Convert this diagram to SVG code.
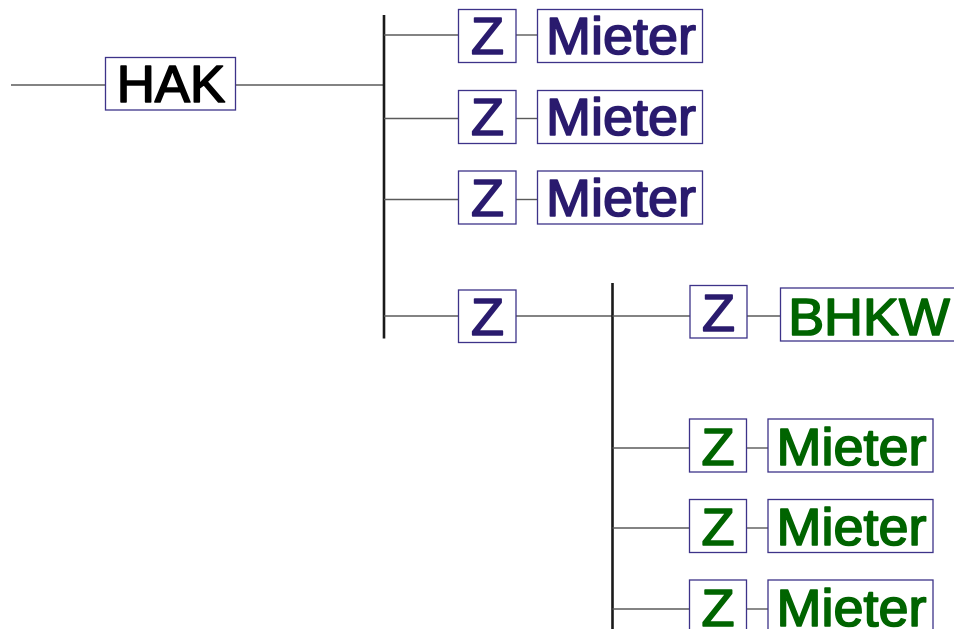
<svg xmlns="http://www.w3.org/2000/svg" width="954" height="629" viewBox="0 0 954 629">
<style>
.box{fill:#fff;stroke:#3d3389;stroke-width:1.3}
.ln{stroke:#5a5a5a;stroke-width:1.4;fill:none}
.bus{stroke:#1a1a1a;stroke-width:2.6;fill:none}
text{font-family:"Liberation Sans",Arial,sans-serif;font-size:51px;text-anchor:middle;stroke-width:1.6;stroke-linejoin:round}
.b{fill:#2a1b6e;stroke:#2a1b6e}
.g{fill:#006400;stroke:#006400}
.k{fill:#000;stroke:#000}
</style>
<rect width="954" height="629" fill="#fff"/>
<g id="connectors">
<line class="ln" x1="11" y1="85" x2="106" y2="85"/>
<line class="ln" x1="235" y1="85" x2="384" y2="85"/>
<line class="bus" x1="384" y1="15" x2="384" y2="338.5"/>
<line class="ln" x1="384" y1="35" x2="459" y2="35"/>
<line class="ln" x1="384" y1="118.5" x2="459" y2="118.5"/>
<line class="ln" x1="384" y1="199.5" x2="459" y2="199.5"/>
<line class="ln" x1="384" y1="316" x2="459" y2="316"/>
<line class="ln" x1="516" y1="35" x2="537.5" y2="35"/>
<line class="ln" x1="516" y1="118.5" x2="537.5" y2="118.5"/>
<line class="ln" x1="516" y1="199.5" x2="537.5" y2="199.5"/>
<line class="ln" x1="516" y1="316" x2="612.5" y2="316"/>
<line class="bus" x1="612.5" y1="283" x2="612.5" y2="629"/>
<line class="ln" x1="612.5" y1="316" x2="690" y2="316"/>
<line class="ln" x1="747" y1="316" x2="781" y2="316"/>
<line class="ln" x1="612.5" y1="448" x2="690" y2="448"/>
<line class="ln" x1="612.5" y1="528" x2="690" y2="528"/>
<line class="ln" x1="612.5" y1="609" x2="690" y2="609"/>
<line class="ln" x1="746.5" y1="448" x2="768" y2="448"/>
<line class="ln" x1="746.5" y1="528" x2="768" y2="528"/>
<line class="ln" x1="746.5" y1="609" x2="768" y2="609"/>
</g>
<g id="hak"><rect class="box" x="105.5" y="57.5" width="130" height="52.5"/><text class="k" x="171" y="102" textLength="108.7" lengthAdjust="spacingAndGlyphs">HAK</text></g>
<g id="z1"><rect class="box" x="458.5" y="9.5" width="57.5" height="53"/><text class="b" x="487.5" y="54.2" textLength="33" lengthAdjust="spacingAndGlyphs">Z</text></g>
<g id="m1"><rect class="box" x="537.5" y="9.5" width="165" height="53"/><text class="b" x="621" y="54.2" textLength="150" lengthAdjust="spacingAndGlyphs">Mieter</text></g>
<g id="z2"><rect class="box" x="458.5" y="90.5" width="57.5" height="53"/><text class="b" x="487.5" y="135.2" textLength="33" lengthAdjust="spacingAndGlyphs">Z</text></g>
<g id="m2"><rect class="box" x="537.5" y="90.5" width="165" height="53"/><text class="b" x="621" y="135.2" textLength="150" lengthAdjust="spacingAndGlyphs">Mieter</text></g>
<g id="z3"><rect class="box" x="458.5" y="171" width="57.5" height="53"/><text class="b" x="487.5" y="215.7" textLength="33" lengthAdjust="spacingAndGlyphs">Z</text></g>
<g id="m3"><rect class="box" x="537.5" y="171" width="165" height="53"/><text class="b" x="621" y="215.7" textLength="150" lengthAdjust="spacingAndGlyphs">Mieter</text></g>
<g id="z4"><rect class="box" x="458.5" y="290" width="57.5" height="52.5"/><text class="b" x="487.5" y="334.8" textLength="33" lengthAdjust="spacingAndGlyphs">Z</text></g>
<g id="z5"><rect class="box" x="690" y="285.5" width="57" height="52.5"/><text class="b" x="718.5" y="330.8" textLength="33" lengthAdjust="spacingAndGlyphs">Z</text></g>
<g id="bhkw"><rect class="box" x="780.5" y="288" width="176" height="53"/><text class="g" x="869" y="334.8" textLength="161.6" lengthAdjust="spacingAndGlyphs">BHKW</text></g>
<g id="z6"><rect class="box" x="689.5" y="419" width="57" height="53"/><text class="g" x="718" y="464.8" textLength="33" lengthAdjust="spacingAndGlyphs">Z</text></g>
<g id="m6"><rect class="box" x="768" y="419" width="165" height="53"/><text class="g" x="851.5" y="464.8" textLength="150" lengthAdjust="spacingAndGlyphs">Mieter</text></g>
<g id="z7"><rect class="box" x="689.5" y="499.5" width="57" height="53"/><text class="g" x="718" y="545.2" textLength="33" lengthAdjust="spacingAndGlyphs">Z</text></g>
<g id="m7"><rect class="box" x="768" y="499.5" width="165" height="53"/><text class="g" x="851.5" y="545.2" textLength="150" lengthAdjust="spacingAndGlyphs">Mieter</text></g>
<g id="z8"><rect class="box" x="689.5" y="580" width="57" height="53"/><text class="g" x="718" y="625.8" textLength="33" lengthAdjust="spacingAndGlyphs">Z</text></g>
<g id="m8"><rect class="box" x="768" y="580" width="165" height="53"/><text class="g" x="851.5" y="625.8" textLength="150" lengthAdjust="spacingAndGlyphs">Mieter</text></g>
</svg>
